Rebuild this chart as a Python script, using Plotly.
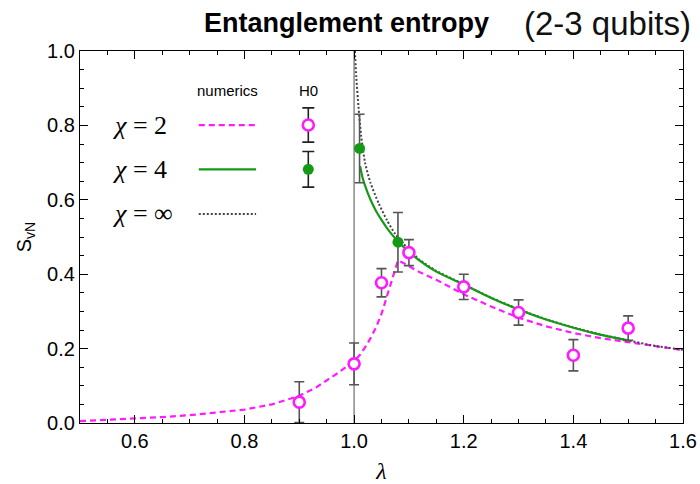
import plotly.graph_objects as go

# ---- data -------------------------------------------------------------
# H0 measurements (chi = 2): lambda, entropy, error
h0_chi2_lam = [0.90, 1.00, 1.05, 1.10, 1.20, 1.30, 1.40, 1.50]
h0_chi2_s   = [0.056, 0.159, 0.377, 0.458, 0.366, 0.297, 0.182, 0.255]
h0_chi2_err = [0.055, 0.056, 0.038, 0.035, 0.034, 0.034, 0.042, 0.033]

# H0 measurements (chi = 4)
h0_chi4_lam = [1.01, 1.08]
h0_chi4_s   = [0.738, 0.486]
h0_chi4_err = [0.092, 0.080]

# numerics, chi = 2
num2_lam = [0.50, 0.55, 0.60, 0.65, 0.70, 0.75, 0.80, 0.85, 0.90, 0.93, 0.95,
            0.97, 0.99, 1.00, 1.01, 1.02, 1.03, 1.04, 1.05, 1.06, 1.07, 1.08,
            1.09, 1.10, 1.12, 1.15, 1.20, 1.25, 1.30, 1.35, 1.40, 1.45, 1.50,
            1.55, 1.60]
num2_s   = [0.005, 0.008, 0.012, 0.016, 0.021, 0.028, 0.036, 0.050, 0.073,
            0.095, 0.114, 0.134, 0.156, 0.167, 0.182, 0.203, 0.228, 0.257,
            0.293, 0.340, 0.392, 0.437, 0.430, 0.421, 0.405, 0.385, 0.346,
            0.313, 0.283, 0.260, 0.242, 0.228, 0.218, 0.207, 0.196]

# numerics, chi = 4
num4_lam = [1.011, 1.015, 1.02, 1.03, 1.04, 1.05, 1.06, 1.07, 1.08, 1.10,
            1.12, 1.15, 1.20, 1.25, 1.30, 1.35, 1.40, 1.45, 1.50]
num4_s   = [0.690, 0.662, 0.638, 0.600, 0.570, 0.546, 0.524, 0.505, 0.488,
            0.460, 0.436, 0.407, 0.372, 0.336, 0.305, 0.278, 0.256, 0.237,
            0.222]

# numerics, chi = infinity
numinf_lam = [1.0015, 1.004, 1.008, 1.013, 1.02, 1.03, 1.045, 1.06, 1.075,
              1.09, 1.10, 1.12, 1.15, 1.20, 1.25, 1.30, 1.35, 1.40, 1.45,
              1.50, 1.55, 1.60]
numinf_s   = [1.000, 0.930, 0.850, 0.770, 0.700, 0.645, 0.590, 0.545, 0.508,
              0.482, 0.466, 0.438, 0.409, 0.373, 0.337, 0.306, 0.279, 0.257,
              0.238, 0.222, 0.207, 0.197]

x_ticks = [0.6, 0.8, 1.0, 1.2, 1.4, 1.6]
y_ticks = [0.0, 0.2, 0.4, 0.6, 0.8, 1.0]

# ---- styles -----------------------------------------------------------
MAGENTA = "#ff1aff"
GREEN = "#159a15"
ERRC = "#555555"
SANS = "Liberation Sans, Arial, sans-serif"
SERIF = "Liberation Serif, Times New Roman, serif"

W, H = 700, 484
L, R, T, B = 80, 17, 51, 61
pw, ph = W - L - R, H - T - B

fig = go.Figure()

# numerical curves
fig.add_trace(go.Scatter(x=num2_lam, y=num2_s, mode="lines",
                         line=dict(color=MAGENTA, width=2.2, dash="6px,4px"),
                         hoverinfo="skip", showlegend=False))
fig.add_trace(go.Scatter(x=numinf_lam, y=numinf_s, mode="lines",
                         line=dict(color="#444444", width=2, dash="2px,2px",
                                   shape="spline", smoothing=0.6),
                         hoverinfo="skip", showlegend=False))
fig.add_trace(go.Scatter(x=num4_lam, y=num4_s, mode="lines",
                         line=dict(color=GREEN, width=2.2, shape="spline",
                                   smoothing=0.6),
                         hoverinfo="skip", showlegend=False))

# H0 points with error bars
fig.add_trace(go.Scatter(x=h0_chi2_lam, y=h0_chi2_s, mode="markers",
                         marker=dict(symbol="circle", size=11, color="white",
                                     line=dict(color=MAGENTA, width=2.6)),
                         error_y=dict(type="data", array=h0_chi2_err,
                                      color=ERRC, thickness=1.6, width=5),
                         showlegend=False))
fig.add_trace(go.Scatter(x=h0_chi4_lam, y=h0_chi4_s, mode="markers",
                         marker=dict(symbol="circle", size=11, color=GREEN,
                                     line=dict(width=0)),
                         error_y=dict(type="data", array=h0_chi4_err,
                                      color=ERRC, thickness=1.6, width=5),
                         showlegend=False))

# ---- hand-built legend on an overlay axis spanning the plot area ------
leg_rows_y = [0.801, 0.682, 0.562]
leg_line_x = [0.197, 0.292]
leg_mark_x = 0.3786

fig.add_trace(go.Scatter(x=leg_line_x, y=[leg_rows_y[0]] * 2, mode="lines",
                         line=dict(color=MAGENTA, width=2.2, dash="6px,4px"),
                         xaxis="x2", yaxis="y2", hoverinfo="skip",
                         showlegend=False))
fig.add_trace(go.Scatter(x=leg_line_x, y=[leg_rows_y[1]] * 2, mode="lines",
                         line=dict(color=GREEN, width=2.2),
                         xaxis="x2", yaxis="y2", hoverinfo="skip",
                         showlegend=False))
fig.add_trace(go.Scatter(x=leg_line_x, y=[leg_rows_y[2]] * 2, mode="lines",
                         line=dict(color="#444444", width=2, dash="2px,2px"),
                         xaxis="x2", yaxis="y2", hoverinfo="skip",
                         showlegend=False))
fig.add_trace(go.Scatter(x=[leg_mark_x], y=[leg_rows_y[0]], mode="markers",
                         marker=dict(symbol="circle", size=11, color="white",
                                     line=dict(color=MAGENTA, width=2.6)),
                         error_y=dict(type="data", array=[0.046], color="#222",
                                      thickness=1.6, width=6),
                         xaxis="x2", yaxis="y2", hoverinfo="skip",
                         showlegend=False))
fig.add_trace(go.Scatter(x=[leg_mark_x], y=[leg_rows_y[1]], mode="markers",
                         marker=dict(symbol="circle", size=11, color=GREEN),
                         error_y=dict(type="data", array=[0.048], color="#222",
                                      thickness=1.6, width=6),
                         xaxis="x2", yaxis="y2", hoverinfo="skip",
                         showlegend=False))

legend_texts = [("<i>χ</i> = 2", leg_rows_y[0]),
                ("<i>χ</i> = 4", leg_rows_y[1]),
                ("<i>χ</i> = ∞", leg_rows_y[2])]
annotations = []
for txt, yy in legend_texts:
    annotations.append(dict(x=0.05, y=yy, xref="x2", yref="y2", text=txt,
                            showarrow=False, xanchor="left", yanchor="middle",
                            font=dict(family=SERIF, size=26, color="black")))
annotations.append(dict(x=0.2446, y=0.895, xref="x2", yref="y2",
                        text="numerics", showarrow=False,
                        font=dict(family=SANS, size=15, color="black")))
annotations.append(dict(x=leg_mark_x, y=0.895, xref="x2", yref="y2",
                        text="H0", showarrow=False,
                        font=dict(family=SANS, size=15, color="black")))

# title, in two parts: bold heading and lighter qualifier
annotations.append(dict(x=(491 - L) / pw, y=(H - B - 23) / ph,
                        xref="paper", yref="paper",
                        text="<b>Entanglement entropy</b>",
                        showarrow=False, xanchor="right", yanchor="middle",
                        font=dict(family=SANS, size=27, color="black")))
annotations.append(dict(x=(693 - L) / pw, y=(H - B - 23) / ph,
                        xref="paper", yref="paper",
                        text="(2-3 qubits)",
                        showarrow=False, xanchor="right", yanchor="middle",
                        font=dict(family=SANS, size=33, color="#111111")))

common_axis = dict(showline=True, linecolor="black", linewidth=1.2,
                   mirror="allticks", ticks="inside", ticklen=8, tickwidth=1.2,
                   tickcolor="black", showgrid=False, zeroline=False,
                   automargin=False,
                   tickfont=dict(family=SANS, size=20, color="black"))

fig.update_layout(
    width=W, height=H,
    margin=dict(l=L, r=R, t=T, b=B, autoexpand=False),
    paper_bgcolor="white", plot_bgcolor="white",
    xaxis=dict(range=[0.5, 1.6], tickvals=x_ticks,
               ticktext=[f"{v:.1f}" for v in x_ticks],
               minor=dict(dtick=0.05, ticks="inside", ticklen=4,
                          tickcolor="black", tickwidth=1),
               title=dict(text="<i>λ</i>", standoff=12,
                          font=dict(family=SERIF, size=24, color="black")),
               **common_axis),
    yaxis=dict(range=[0, 1.0], tickvals=y_ticks,
               ticktext=[f"{v:.1f}" for v in y_ticks],
               minor=dict(dtick=0.05, ticks="inside", ticklen=4,
                          tickcolor="black", tickwidth=1),
               title=dict(text="S<sub>vN</sub>", standoff=10,
                          font=dict(family=SANS, size=20, color="black")),
               **common_axis),
    xaxis2=dict(overlaying="x", range=[0, 1], visible=False),
    yaxis2=dict(overlaying="y", range=[0, 1], visible=False),
    shapes=[dict(type="line", xref="x", yref="paper", x0=1.0, x1=1.0,
                 y0=0, y1=1, line=dict(color="#8a8a8a", width=1.5),
                 layer="below")],
    annotations=annotations,
)

fig.write_html("out.html")
